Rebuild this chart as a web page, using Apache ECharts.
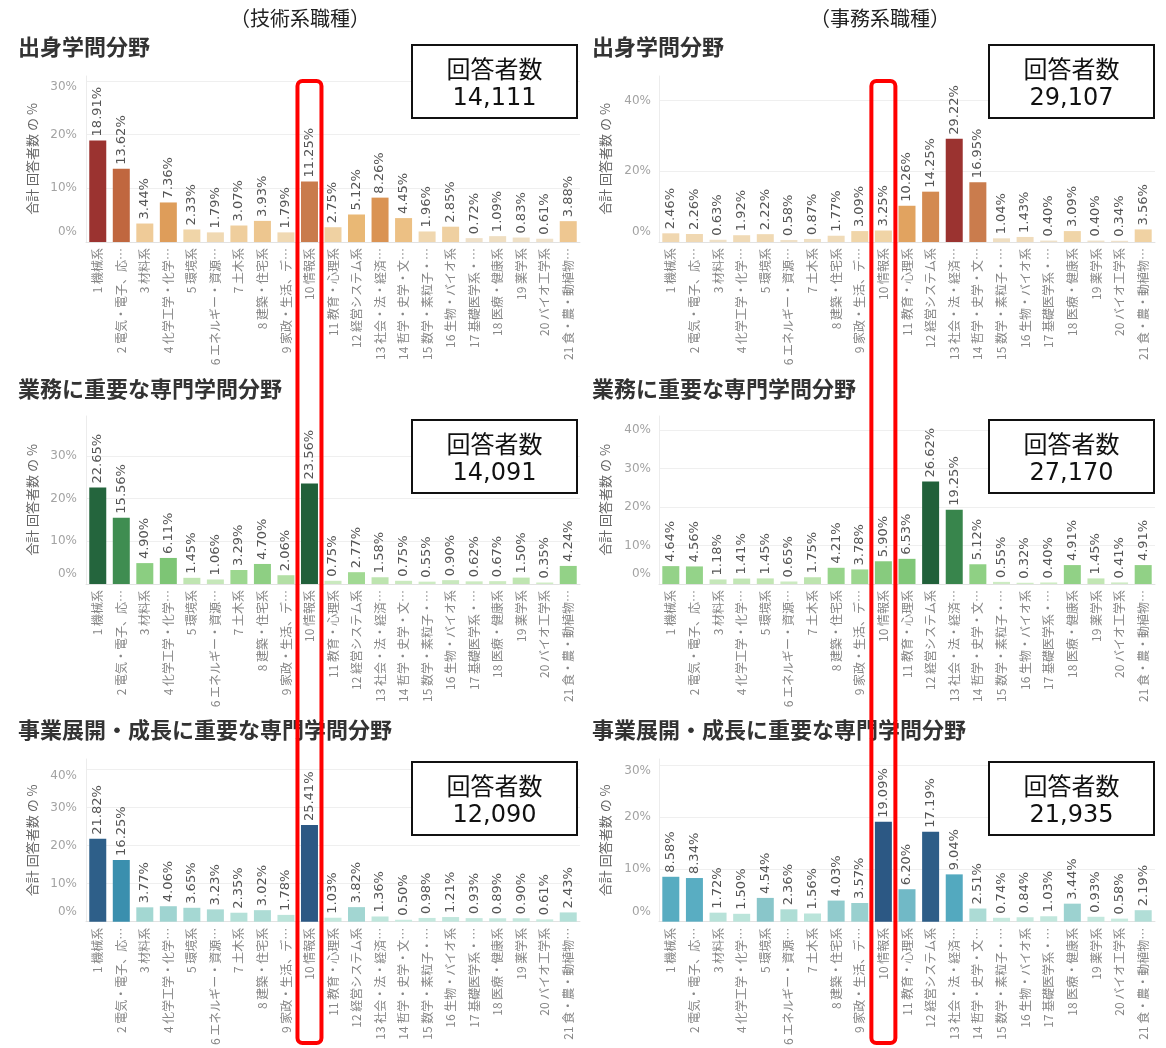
<!DOCTYPE html>
<html>
<head>
<meta charset="utf-8">
<script src="https://cdn.jsdelivr.net/npm/echarts@6/dist/echarts.min.js"></script>
<style>
  html, body { margin: 0; padding: 0; background: #ffffff; }
  #main { width: 1166px; height: 1048px; }
</style>
</head>
<body>
<div id="main"></div>
<script>
// ---- data ----
const categories = [
  '1 機械系', '2 電気・電子、応…', '3 材料系', '4 化学工学・化学…', '5 環境系',
  '6 エネルギー・資源…', '7 土木系', '8 建築・住宅系', '9 家政・生活、デ…', '10 情報系',
  '11 教育・心理系', '12 経営システム系', '13 社会・法・経済…', '14 哲学・史学・文…',
  '15 数学・素粒子・…', '16 生物・バイオ系', '17 基礎医学系・…', '18 医療・健康系',
  '19 薬学系', '20 バイオ工学系', '21 食・農・動植物…'
];

// 技術系職種
const techOrigin = [18.91, 13.62, 3.44, 7.36, 2.33, 1.79, 3.07, 3.93, 1.79, 11.25, 2.75, 5.12, 8.26, 4.45, 1.96, 2.85, 0.72, 1.09, 0.83, 0.61, 3.88];
const techWork   = [22.65, 15.56, 4.90, 6.11, 1.45, 1.06, 3.29, 4.70, 2.06, 23.56, 0.75, 2.77, 1.58, 0.75, 0.55, 0.90, 0.62, 0.67, 1.50, 0.35, 4.24];
const techGrowth = [21.82, 16.25, 3.77, 4.06, 3.65, 3.23, 2.35, 3.02, 1.78, 25.41, 1.03, 3.82, 1.36, 0.50, 0.98, 1.21, 0.93, 0.89, 0.90, 0.61, 2.43];

// 事務系職種
const officeOrigin = [2.46, 2.26, 0.63, 1.92, 2.22, 0.58, 0.87, 1.77, 3.09, 3.25, 10.26, 14.25, 29.22, 16.95, 1.04, 1.43, 0.40, 3.09, 0.40, 0.34, 3.56];
const officeWork   = [4.64, 4.56, 1.18, 1.41, 1.45, 0.65, 1.75, 4.21, 3.78, 5.90, 6.53, 26.62, 19.25, 5.12, 0.55, 0.32, 0.40, 4.91, 1.45, 0.41, 4.91];
const officeGrowth = [8.58, 8.34, 1.72, 1.50, 4.54, 2.36, 1.56, 4.03, 3.57, 19.09, 6.20, 17.19, 9.04, 2.51, 0.74, 0.84, 1.03, 3.44, 0.93, 0.58, 2.19];

const respondents = ['14,111', '29,107', '14,091', '27,170', '12,090', '21,935'];
const columnTitles = ['（技術系職種）', '（事務系職種）'];
const panelTitles = ['出身学問分野', '業務に重要な専門学問分野', '事業展開・成長に重要な専門学問分野'];
const axisName = '合計 回答者数 の %';
const boxCaption = '回答者数';

// y-axis extents and tick step per panel (order: row by row, left then right)
const axisMax = [30.9, 47, 39.4, 43.6, 42.8, 31.1];
const axisStep = [10, 20, 10, 10, 10, 10];
const highlightIndex = 9; // 10 情報系

// ---- styling ----
const panels = [techOrigin, officeOrigin, techWork, officeWork, techGrowth, officeGrowth];

const orangeStops = [[0, '#EFE1CA'], [0.1, '#F0D4A6'], [0.17, '#EEC994'], [0.25, '#E9B774'], [0.4, '#DC9654'], [0.58, '#C97B4D'], [0.71, '#C0673F'], [1, '#9B3330']];
const greenStops  = [[0, '#D0ECC6'], [0.06, '#BCE3AD'], [0.1, '#A2D994'], [0.17, '#92D287'], [0.25, '#7CC575'], [0.45, '#55A25D'], [0.68, '#3C8A4F'], [1, '#21603A']];
const blueStops   = [[0, '#C9EBE0'], [0.06, '#B8E2D9'], [0.13, '#A4D7D2'], [0.2, '#8DC8CB'], [0.3, '#72B9C6'], [0.44, '#55ABC1'], [0.63, '#3A8FAE'], [0.85, '#2E5F89'], [1, '#2C5884']];
const panelStops = [orangeStops, orangeStops, greenStops, greenStops, blueStops, blueStops];

function hexRgb(h) {
  return [parseInt(h.slice(1, 3), 16), parseInt(h.slice(3, 5), 16), parseInt(h.slice(5, 7), 16)];
}
function sampleStops(stops, n) {
  const out = [];
  for (let i = 0; i < n; i++) {
    const t = i / (n - 1);
    let k = 0;
    while (k < stops.length - 2 && t > stops[k + 1][0]) k++;
    const [t0, c0] = stops[k], [t1, c1] = stops[k + 1];
    const f = Math.min(1, Math.max(0, (t - t0) / (t1 - t0)));
    const a = hexRgb(c0), b = hexRgb(c1);
    const c = a.map((v, j) => Math.round(v + (b[j] - v) * f));
    out.push('rgb(' + c.join(',') + ')');
  }
  return out;
}

// grid geometry: columns and rows
const colLeft = [86, 659];
const colWidth = [494, 496];
const rowTop = [76, 416, 759];
const rowHeight = [166, 168, 167];

const fontJP = '"Noto Sans CJK JP", "Noto Sans", sans-serif';
const fontNum = '"DejaVu Sans", sans-serif';

const grids = [], xAxes = [], yAxes = [], series = [], visualMaps = [];

panels.forEach((values, i) => {
  const col = i % 2, row = Math.floor(i / 2);
  const max = axisMax[i], h = rowHeight[row];
  grids.push({ left: colLeft[col], top: rowTop[row], width: colWidth[col], height: h, containLabel: false });
  xAxes.push({
    type: 'category', gridIndex: i, data: categories,
    axisLine: { show: true, lineStyle: { color: '#e2e2e2', width: 1 } },
    axisTick: { show: false },
    axisLabel: { interval: 0, rotate: 90, margin: 6, fontSize: 12, color: '#868686', fontFamily: fontJP }
  });
  yAxes.push({
    type: 'value', gridIndex: i, min: 0, max: max, interval: axisStep[i],
    name: axisName, nameLocation: 'middle', nameGap: 47,
    nameTextStyle: { fontSize: 13, color: '#666666', fontFamily: fontJP },
    axisLine: { show: true, lineStyle: { color: '#ececec' } },
    axisTick: { show: false },
    splitLine: { show: true, showMaxLine: false, lineStyle: { color: '#efefef' } },
    axisLabel: {
      margin: col === 0 ? 9 : 8, fontSize: 12, color: '#a3a3a3', fontFamily: fontNum,
      showMaxLabel: false,
      formatter: function (v) {
        if (Math.abs(v % axisStep[i]) > 1e-6) return '';
        const gap = (max - v) / max * h;
        if (v === 0) return '{lo|0%}';
        if (gap < 11) return '{hi|' + v + '%}';
        return v + '%';
      },
      rich: {
        lo: { fontSize: 12, color: '#a3a3a3', fontFamily: fontNum, padding: [0, 0, 20, 0] },
        hi: { fontSize: 12, color: '#a3a3a3', fontFamily: fontNum, padding: [12, 0, 0, 0] }
      }
    }
  });
  series.push({
    type: 'bar', xAxisIndex: i, yAxisIndex: i, data: values, barWidth: 17,
    label: {
      show: true, position: 'top', rotate: 90, align: 'left', verticalAlign: 'middle',
      distance: 4, fontSize: 13, color: '#555555', fontFamily: fontNum,
      formatter: p => p.value.toFixed(2) + '%'
    },
    emphasis: { disabled: true }
  });
  visualMaps.push({
    type: 'continuous', show: false, seriesIndex: i,
    min: Math.min(...values), max: Math.max(...values),
    inRange: { color: sampleStops(panelStops[i], 41) }
  });
});

// header texts and respondent boxes
const graphics = [];
const colCenter = [300, 880];
columnTitles.forEach((t, c) => {
  graphics.push({ type: 'text', x: colCenter[c], y: 18,
    style: { text: t, fontSize: 20, fill: '#222222', fontFamily: fontJP, align: 'center', verticalAlign: 'middle' } });
});
const titleY = [47, 389, 730];
panelTitles.forEach((t, r) => {
  [18, 592].forEach(x => {
    graphics.push({ type: 'text', x: x, y: titleY[r],
      style: { text: t, fontSize: 22, fontWeight: 'bold', fill: '#333333', fontFamily: fontJP, align: 'left', verticalAlign: 'middle' } });
  });
});
const boxLeft = [412, 989];
const boxTop = [45, 420, 762];
respondents.forEach((n, i) => {
  const col = i % 2, row = Math.floor(i / 2);
  const x = boxLeft[col], y = boxTop[row], w = 165, hgt = 73;
  graphics.push({ type: 'rect', shape: { x: x, y: y, width: w, height: hgt },
    style: { fill: '#ffffff', stroke: '#111111', lineWidth: 2 }, z: 10 });
  graphics.push({ type: 'text', x: x + w / 2, y: y + 24, z: 11,
    style: { text: boxCaption, fontSize: 24, fill: '#111111', fontFamily: fontJP, align: 'center', verticalAlign: 'middle' } });
  graphics.push({ type: 'text', x: x + w / 2, y: y + 54, z: 11,
    style: { text: n, fontSize: 24, fill: '#111111', fontFamily: fontNum, align: 'center', verticalAlign: 'middle' } });
});

const chart = echarts.init(document.getElementById('main'), null, { renderer: 'canvas' });
chart.setOption({
  animation: false,
  backgroundColor: '#ffffff',
  grid: grids,
  xAxis: xAxes,
  yAxis: yAxes,
  visualMap: visualMaps,
  series: series,
  graphic: graphics
});

// red outline around the 情報系 column in each job type
[0, 1].forEach(col => {
  const pt = chart.convertToPixel({ gridIndex: col }, [categories[highlightIndex], 0]);
  graphics.push({ type: 'rect', z: 20,
    shape: { x: pt[0] - 12, y: 81, width: 24, height: 962, r: 5 },
    style: { fill: 'none', stroke: '#ff0000', lineWidth: 4 } });
});
chart.setOption({ graphic: graphics });
</script>
</body>
</html>
